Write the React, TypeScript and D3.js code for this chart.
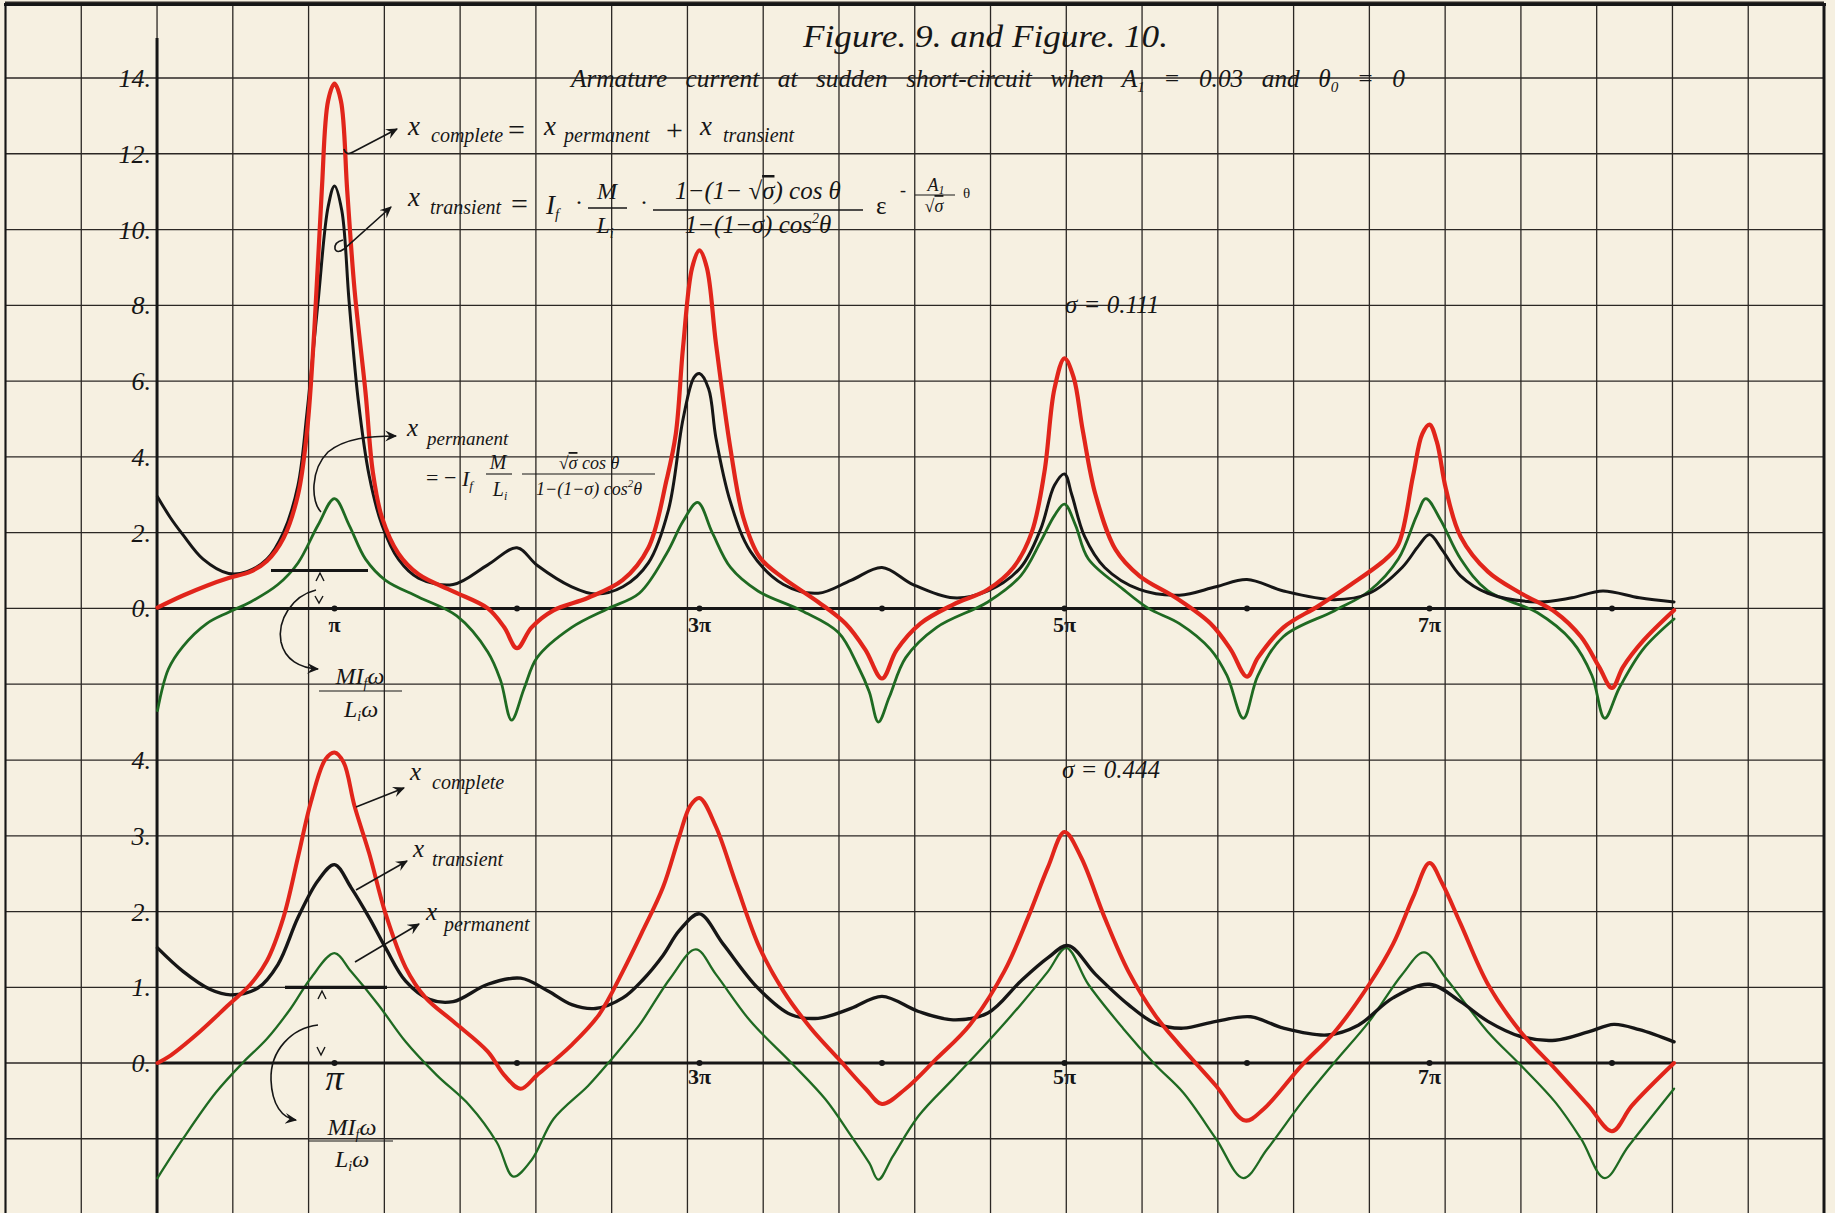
import * as d3 from 'd3'

const W = 1835
const H = 1213
const FONT = '"Liberation Serif", "DejaVu Serif", serif'
const PAPER = '#f6f0e1'
const INK = '#161616'
const RED = '#e1251b'
const GREEN = '#1f6a22'

// theta is in units of pi
// Figure 9, sigma = 0.111
const upperComplete = [
  [0.03, 0.02], [0.17, 0.34], [0.3, 0.6], [0.42, 0.8], [0.54, 0.97], [0.63, 1.25], [0.72, 1.85],
  [0.8, 3.0], [0.85, 4.7], [0.89, 7.4], [0.93, 11.0], [0.965, 13.4], [1.0, 13.85], [1.035, 13.4],
  [1.07, 11.0], [1.11, 8.4], [1.17, 5.7], [1.21, 3.6], [1.26, 2.4], [1.35, 1.45], [1.46, 0.9],
  [1.65, 0.45], [1.84, 0.0], [1.93, -0.5], [2.0, -1.05], [2.08, -0.5], [2.2, -0.05], [2.39, 0.28],
  [2.58, 0.75], [2.72, 1.6], [2.82, 3.4], [2.87, 4.6], [2.91, 6.9], [2.96, 9.0], [3.0, 9.45],
  [3.04, 9.0], [3.09, 7.0], [3.17, 4.2], [3.24, 2.4], [3.33, 1.35], [3.46, 0.8], [3.65, 0.17],
  [3.8, -0.4], [3.91, -1.1], [4.0, -1.85], [4.08, -1.1], [4.21, -0.4], [4.39, 0.1], [4.58, 0.5],
  [4.72, 1.08], [4.82, 2.0], [4.89, 3.6], [4.945, 5.8], [5.0, 6.6], [5.05, 6.1], [5.1, 4.7],
  [5.17, 3.0], [5.28, 1.55], [5.41, 0.86], [5.61, 0.28], [5.8, -0.4], [5.91, -1.08], [6.0, -1.8],
  [6.06, -1.3], [6.2, -0.5], [6.39, 0.06], [6.57, 0.63], [6.76, 1.3], [6.83, 1.7], [6.91, 3.5],
  [6.96, 4.6], [7.0, 4.85], [7.04, 4.4], [7.09, 3.15], [7.17, 1.9], [7.32, 0.97], [7.5, 0.4],
  [7.69, -0.1], [7.83, -0.75], [7.93, -1.55], [8.0, -2.1], [8.06, -1.55], [8.17, -0.86], [8.34, -0.05],
]
const upperTransient = [
  [0.03, 2.95], [0.1, 2.4], [0.17, 1.94], [0.28, 1.3], [0.42, 0.92], [0.52, 0.97], [0.63, 1.3],
  [0.72, 2.0], [0.8, 3.25], [0.85, 5.2], [0.91, 8.1], [0.965, 10.6], [1.0, 11.15], [1.04, 10.5],
  [1.08, 8.1], [1.13, 5.5], [1.19, 3.5], [1.26, 2.2], [1.35, 1.3], [1.46, 0.8], [1.65, 0.63],
  [1.84, 1.15], [2.0, 1.6], [2.11, 1.14], [2.3, 0.57], [2.43, 0.38], [2.58, 0.57], [2.72, 1.2],
  [2.83, 2.6], [2.91, 5.0], [2.97, 6.1], [3.0, 6.2], [3.05, 5.8], [3.09, 4.5], [3.17, 2.8],
  [3.28, 1.5], [3.46, 0.63], [3.65, 0.4], [3.83, 0.74], [4.0, 1.08], [4.17, 0.63], [4.39, 0.28],
  [4.58, 0.46], [4.76, 1.08], [4.87, 2.1], [4.945, 3.25], [5.0, 3.55], [5.04, 3.0], [5.11, 1.9],
  [5.22, 1.08], [5.41, 0.5], [5.63, 0.35], [5.83, 0.57], [6.0, 0.76], [6.2, 0.46], [6.48, 0.23],
  [6.67, 0.4], [6.85, 1.08], [6.94, 1.65], [7.0, 1.95], [7.07, 1.54], [7.17, 0.86], [7.32, 0.4],
  [7.59, 0.17], [7.78, 0.28], [7.95, 0.46], [8.15, 0.28], [8.34, 0.17],
]
const upperPermanent = [
  [0.03, -2.7], [0.09, -1.6], [0.17, -1.0], [0.3, -0.4], [0.42, -0.1], [0.54, 0.17], [0.69, 0.63],
  [0.8, 1.2], [0.91, 2.2], [1.0, 2.9], [1.08, 2.2], [1.17, 1.3], [1.28, 0.74], [1.46, 0.3],
  [1.67, -0.2], [1.84, -1.15], [1.91, -1.9], [1.97, -2.95], [2.04, -2.1], [2.11, -1.3], [2.3, -0.5],
  [2.5, 0.0], [2.67, 0.4], [2.82, 1.45], [2.91, 2.3], [2.99, 2.8], [3.07, 2.0], [3.17, 1.08],
  [3.32, 0.46], [3.56, -0.06], [3.76, -0.63], [3.87, -1.54], [3.93, -2.2], [3.98, -3.0], [4.04, -2.34],
  [4.13, -1.3], [4.3, -0.5], [4.58, 0.17], [4.76, 0.86], [4.87, 1.77], [4.945, 2.45], [5.0, 2.75],
  [5.06, 2.2], [5.13, 1.31], [5.32, 0.51], [5.46, 0.0], [5.63, -0.4], [5.8, -1.08], [5.89, -1.77],
  [5.98, -2.9], [6.06, -1.77], [6.2, -0.74], [6.48, -0.06], [6.67, 0.46], [6.83, 1.31], [6.93, 2.45],
  [6.98, 2.9], [7.06, 2.34], [7.17, 1.31], [7.32, 0.46], [7.59, -0.11], [7.78, -0.86], [7.89, -1.77],
  [7.96, -2.9], [8.04, -2.1], [8.17, -1.08], [8.34, -0.28],
]
// Figure 10, sigma = 0.444
const lowerComplete = [
  [0.03, 0.0], [0.09, 0.08], [0.26, 0.41], [0.42, 0.77], [0.54, 1.04], [0.63, 1.35], [0.72, 1.92],
  [0.8, 2.72], [0.87, 3.44], [0.95, 4.01], [1.0, 4.1], [1.05, 3.97], [1.11, 3.39], [1.19, 2.77],
  [1.28, 1.97], [1.39, 1.26], [1.5, 0.86], [1.65, 0.55], [1.84, 0.15], [1.93, -0.16], [2.02, -0.34],
  [2.11, -0.16], [2.3, 0.24], [2.45, 0.64], [2.58, 1.21], [2.69, 1.75], [2.8, 2.32], [2.89, 3.0],
  [2.95, 3.4], [3.0, 3.5], [3.09, 3.12], [3.2, 2.37], [3.33, 1.52], [3.46, 0.95], [3.61, 0.46],
  [3.76, 0.06], [3.91, -0.34], [4.0, -0.54], [4.13, -0.34], [4.3, 0.06], [4.48, 0.5], [4.67, 1.21],
  [4.8, 1.92], [4.91, 2.59], [5.0, 3.05], [5.09, 2.72], [5.22, 1.92], [5.35, 1.21], [5.5, 0.62],
  [5.63, 0.24], [5.83, -0.3], [5.99, -0.76], [6.09, -0.61], [6.3, -0.03], [6.48, 0.41], [6.67, 1.04],
  [6.8, 1.57], [6.91, 2.19], [7.0, 2.64], [7.07, 2.37], [7.17, 1.84], [7.32, 1.04], [7.5, 0.41],
  [7.69, -0.08], [7.87, -0.56], [8.0, -0.9], [8.11, -0.56], [8.34, 0.0],
]
const lowerTransient = [
  [0.03, 1.52], [0.17, 1.21], [0.32, 0.97], [0.43, 0.9], [0.58, 0.99], [0.69, 1.3], [0.8, 1.92],
  [0.91, 2.41], [1.0, 2.62], [1.09, 2.32], [1.19, 1.92], [1.28, 1.52], [1.39, 1.08], [1.52, 0.84],
  [1.65, 0.81], [1.84, 1.04], [2.02, 1.12], [2.17, 0.95], [2.3, 0.77], [2.43, 0.72], [2.58, 0.86],
  [2.69, 1.1], [2.8, 1.42], [2.89, 1.75], [3.0, 1.97], [3.13, 1.57], [3.32, 0.99], [3.5, 0.64],
  [3.65, 0.59], [3.83, 0.72], [4.0, 0.88], [4.2, 0.68], [4.39, 0.57], [4.58, 0.66], [4.76, 1.08],
  [4.91, 1.39], [5.02, 1.55], [5.17, 1.17], [5.35, 0.77], [5.5, 0.52], [5.65, 0.46], [5.83, 0.55],
  [6.02, 0.61], [6.2, 0.46], [6.44, 0.37], [6.61, 0.5], [6.8, 0.86], [7.0, 1.04], [7.17, 0.81],
  [7.32, 0.55], [7.5, 0.35], [7.69, 0.3], [7.87, 0.41], [8.01, 0.51], [8.15, 0.44], [8.34, 0.28],
]
const lowerPermanent = [
  [0.03, -1.52], [0.17, -1.0], [0.35, -0.39], [0.5, 0.01], [0.63, 0.32], [0.76, 0.72], [0.87, 1.12],
  [1.0, 1.45], [1.09, 1.21], [1.24, 0.77], [1.39, 0.28], [1.56, -0.16], [1.74, -0.56], [1.89, -1.05],
  [1.98, -1.5], [2.08, -1.28], [2.2, -0.74], [2.39, -0.3], [2.5, 0.0], [2.67, 0.5], [2.84, 1.12],
  [2.98, 1.5], [3.09, 1.17], [3.28, 0.55], [3.5, 0.01], [3.69, -0.48], [3.83, -0.96], [3.93, -1.32],
  [3.98, -1.54], [4.06, -1.23], [4.2, -0.7], [4.39, -0.21], [4.58, 0.28], [4.76, 0.77], [4.91, 1.21],
  [5.01, 1.52], [5.13, 1.04], [5.32, 0.46], [5.5, -0.03], [5.65, -0.39], [5.83, -1.0], [5.98, -1.52],
  [6.11, -1.14], [6.3, -0.52], [6.48, 0.01], [6.67, 0.55], [6.85, 1.17], [6.97, 1.46], [7.09, 1.12],
  [7.32, 0.41], [7.5, -0.03], [7.69, -0.52], [7.83, -1.0], [7.96, -1.52], [8.09, -1.1], [8.34, -0.34],
]

const upperTicks = [14, 12, 10, 8, 6, 4, 2, 0]
const lowerTicks = [4, 3, 2, 1, 0]
const piMarks = [1, 2, 3, 4, 5, 6, 7, 8]
const piLabels = [[1, 'π'], [3, '3π'], [5, '5π'], [7, '7π']]

// scales
const x = d3.scaleLinear().domain([0, 8]).range([152, 152 + 8 * 182.5])
const yUp = d3.scaleLinear().domain([0, 14]).range([608.4, 78])
const yLow = d3.scaleLinear().domain([0, 4]).range([1063, 760.1])
const xGrid = d3.scaleLinear().domain([-2, 22]).range([5.5, 1824])
const AXIS_X = xGrid(0)
const X_END = x(8.34)

const curve = d3.curveCatmullRom.alpha(0.5)
const lineUp = d3.line().x((d) => x(d[0])).y((d) => yUp(d[1])).curve(curve)
const lineLow = d3.line().x((d) => x(d[0])).y((d) => yLow(d[1])).curve(curve)

const it = { fontFamily: FONT, fontStyle: 'italic', fill: INK }

const Arrow = ({ d }) => (
  <path d={d} fill="none" stroke={INK} strokeWidth={1.6} markerEnd="url(#head)" />
)

export default function App() {
  const hLines = [
    ...d3.range(16, -3, -2).map((v) => yUp(v)),
    ...d3.range(4, -3, -1).map((v) => yLow(v)),
  ]
  const vLines = d3.range(-2, 23).map((k) => xGrid(k))

  return (
    <svg
      width={W}
      height={H}
      viewBox={`0 0 ${W} ${H}`}
      style={{ position: 'absolute', left: 0, top: 0, display: 'block' }}
    >
      <defs>
        <marker id="head" viewBox="0 0 12 12" refX="10" refY="6" markerWidth="13" markerHeight="13"
          markerUnits="userSpaceOnUse" orient="auto">
          <path d="M0,1 L11,6 L0,11 L4,6 Z" fill={INK} />
        </marker>
      </defs>
      <rect width={W} height={H} fill={PAPER} />

      {/* grid */}
      <g stroke="#2b2724" strokeWidth={1.3}>
        {vLines.map((vx, i) => (
          <line key={'v' + i} x1={vx} x2={vx} y1={4} y2={H} />
        ))}
        {hLines.map((hy, i) => (
          <line key={'h' + i} x1={5} x2={1824} y1={hy} y2={hy} />
        ))}
      </g>
      <g stroke={INK} fill="none">
        <line x1={4} x2={1826} y1={4.5} y2={4.5} strokeWidth={3} />
        <line x1={5.5} x2={5.5} y1={4} y2={H} strokeWidth={2} />
        <line x1={1824} x2={1824} y1={4} y2={H} strokeWidth={3} />
        <line x1={AXIS_X} x2={AXIS_X} y1={38} y2={H} strokeWidth={3} />
        <line x1={AXIS_X} x2={X_END} y1={yUp(0)} y2={yUp(0)} strokeWidth={3} />
        <line x1={AXIS_X} x2={X_END} y1={yLow(0)} y2={yLow(0)} strokeWidth={3} />
      </g>

      {/* y tick labels */}
      {upperTicks.map((v) => (
        <text key={'u' + v} x={151} y={yUp(v) + 9} textAnchor="end" fontSize={26} {...it}>{v}.</text>
      ))}
      {lowerTicks.map((v) => (
        <text key={'l' + v} x={151} y={yLow(v) + 9} textAnchor="end" fontSize={26} {...it}>{v}.</text>
      ))}

      {/* pi dots and labels */}
      {piMarks.map((n) => (
        <g key={'d' + n} fill={INK}>
          <circle cx={x(n)} cy={yUp(0)} r={3} />
          <circle cx={x(n)} cy={yLow(0)} r={3} />
        </g>
      ))}
      {piLabels.map(([n, s]) => (
        <text key={'pu' + n} x={x(n)} y={yUp(0) + 24} textAnchor="middle" fontSize={22}
          fontWeight="bold" fontFamily={FONT} fill={INK}>{s}</text>
      ))}
      {piLabels.map(([n, s]) =>
        n === 1 ? (
          <text key={'pl' + n} x={x(n)} y={yLow(0) + 27} textAnchor="middle" fontSize={36}
            fontFamily={FONT} fontStyle="italic" fill={INK}>π</text>
        ) : (
          <text key={'pl' + n} x={x(n)} y={yLow(0) + 21} textAnchor="middle" fontSize={22}
            fontWeight="bold" fontFamily={FONT} fill={INK}>{s}</text>
        )
      )}

      {/* curves */}
      <g fill="none" strokeLinejoin="round" strokeLinecap="round">
        <path d={lineUp(upperPermanent)} stroke={GREEN} strokeWidth={2.8} />
        <path d={lineUp(upperTransient)} stroke={INK} strokeWidth={3} />
        <path d={lineUp(upperComplete)} stroke={RED} strokeWidth={4.2} />
        <path d={lineLow(lowerPermanent)} stroke={GREEN} strokeWidth={2.3} />
        <path d={lineLow(lowerTransient)} stroke={INK} strokeWidth={3.4} />
        <path d={lineLow(lowerComplete)} stroke={RED} strokeWidth={4} />
      </g>

      {/* titles */}
      <text x={803} y={47} fontSize={31} textLength={365} lengthAdjust="spacingAndGlyphs" {...it}>
        Figure. 9. and Figure. 10.
      </text>
      <text x={571} y={87} fontSize={25} wordSpacing={12} textLength={834}
        lengthAdjust="spacingAndGlyphs" {...it}>
        Armature current at sudden short-circuit when A<tspan fontSize={15} dy={5}>1</tspan>
        <tspan dy={-5}> = 0.03 and θ</tspan><tspan fontSize={15} dy={5}>0</tspan>
        <tspan dy={-5}> = 0</tspan>
      </text>

      {/* x complete = x permanent + x transient */}
      <g {...it}>
        <text x={408} y={135} fontSize={27}>x</text>
        <text x={431} y={142} fontSize={20}>complete</text>
        <text x={508} y={140} fontSize={30} fontStyle="normal">=</text>
        <text x={544} y={135} fontSize={27}>x</text>
        <text x={564} y={142} fontSize={20}>permanent</text>
        <text x={666} y={140} fontSize={30} fontStyle="normal">+</text>
        <text x={700} y={135} fontSize={27}>x</text>
        <text x={723} y={142} fontSize={20}>transient</text>
      </g>

      {/* x transient formula */}
      <g {...it}>
        <text x={408} y={206} fontSize={27}>x</text>
        <text x={430} y={214} fontSize={20}>transient</text>
        <text x={511} y={214} fontSize={30} fontStyle="normal">=</text>
        <text x={546} y={214} fontSize={27}>I<tspan fontSize={15} dy={5}>f</tspan></text>
        <text x={575} y={210} fontSize={24} fontStyle="normal">·</text>
        <text x={607} y={199} fontSize={24} textAnchor="middle">M</text>
        <line x1={588} x2={627} y1={208} y2={208} stroke={INK} strokeWidth={1.3} />
        <text x={605} y={233} fontSize={24} textAnchor="middle">L<tspan fontSize={14} dy={5}>i</tspan></text>
        <text x={640} y={210} fontSize={24} fontStyle="normal">·</text>
        <text x={758} y={199} fontSize={25} textAnchor="middle">
          1−(1− √<tspan textDecoration="overline">σ</tspan>) cos θ
        </text>
        <line x1={653} x2={863} y1={210} y2={210} stroke={INK} strokeWidth={1.3} />
        <text x={758} y={233} fontSize={25} textAnchor="middle">
          1−(1−σ) cos<tspan fontSize={14} dy={-10}>2</tspan><tspan dy={10}>θ</tspan>
        </text>
        <text x={876} y={214} fontSize={25} fontStyle="normal">ε</text>
        <text x={900} y={196} fontSize={18} fontStyle="normal">-</text>
        <text x={936} y={191} fontSize={18} textAnchor="middle">A<tspan fontSize={12} dy={3}>1</tspan></text>
        <line x1={915} x2={955} y1={195} y2={195} stroke={INK} strokeWidth={1} />
        <text x={934} y={212} fontSize={18} textAnchor="middle">√<tspan textDecoration="overline">σ</tspan></text>
        <text x={963} y={198} fontSize={15} fontStyle="normal">θ</text>
      </g>

      {/* x permanent formula */}
      <g {...it}>
        <text x={407} y={436} fontSize={25}>x</text>
        <text x={427} y={445} fontSize={19}>permanent</text>
        <text x={426} y={485} fontSize={22} fontStyle="normal">= −</text>
        <text x={462} y={486} fontSize={22}>I<tspan fontSize={13} dy={4}>f</tspan></text>
        <text x={498} y={469} fontSize={20} textAnchor="middle">M</text>
        <line x1={486} x2={512} y1={474} y2={474} stroke={INK} strokeWidth={1.1} />
        <text x={500} y={496} fontSize={20} textAnchor="middle">L<tspan fontSize={12} dy={4}>i</tspan></text>
        <text x={589} y={469} fontSize={18} textAnchor="middle">
          √<tspan textDecoration="overline">σ</tspan> cos θ
        </text>
        <line x1={522} x2={655} y1={474} y2={474} stroke={INK} strokeWidth={1.1} />
        <text x={589} y={495} fontSize={18} textAnchor="middle">
          1−(1−σ) cos<tspan fontSize={11} dy={-8}>2</tspan><tspan dy={8}>θ</tspan>
        </text>
      </g>

      {/* arrows, upper figure */}
      <Arrow d="M 344 149 q 2 7 9 3 L 397 129" />
      <Arrow d="M 343 240 q -9 2 -8 9 q 2 5 9 0 L 391 207" />
      <Arrow d="M 321 512 C 311 502 310 470 328 452 C 345 438 370 436 396 436" />
      <Arrow d="M 316 590 C 292 596 277 620 281 642 C 285 660 300 668 318 669" />

      {/* MI_f w / L_i w, upper */}
      <line x1={271} x2={368} y1={yUp(1)} y2={yUp(1)} stroke={INK} strokeWidth={3.2} />
      <path d="M 316 581 L 320 573 L 324 581 M 315 596 L 319 603 L 323 596" stroke={INK} strokeWidth={1.4} fill="none" />
      <g {...it}>
        <text x={360} y={684} fontSize={24} textAnchor="middle">MI<tspan fontSize={14} dy={4}>f</tspan><tspan dy={-4}>ω</tspan></text>
        <line x1={319} x2={402} y1={691} y2={691} stroke={INK} strokeWidth={1.2} />
        <text x={361} y={717} fontSize={24} textAnchor="middle">L<tspan fontSize={14} dy={4}>i</tspan><tspan dy={-4}>ω</tspan></text>
      </g>

      {/* sigma labels */}
      <text x={1065} y={313} fontSize={25} {...it}>σ = 0.111</text>
      <text x={1062} y={778} fontSize={25} {...it}>σ = 0.444</text>

      {/* lower figure labels */}
      <g {...it}>
        <text x={410} y={780} fontSize={25}>x</text>
        <text x={432} y={789} fontSize={20}>complete</text>
        <text x={413} y={857} fontSize={25}>x</text>
        <text x={432} y={866} fontSize={20}>transient</text>
        <text x={426} y={920} fontSize={25}>x</text>
        <text x={444} y={931} fontSize={20}>permanent</text>
      </g>
      <Arrow d="M 356 807 L 404 788" />
      <Arrow d="M 356 890 L 407 861" />
      <Arrow d="M 355 962 L 419 924" />

      {/* MI_f w / L_i w, lower */}
      <line x1={285} x2={387} y1={yLow(1)} y2={yLow(1)} stroke={INK} strokeWidth={3.2} />
      <path d="M 318 999 L 322 991 L 326 999 M 317 1047 L 321 1055 L 325 1047" stroke={INK} strokeWidth={1.4} fill="none" />
      <Arrow d="M 318 1025 C 292 1028 270 1050 271 1080 C 272 1105 282 1118 296 1120" />
      <g {...it}>
        <text x={352} y={1135} fontSize={24} textAnchor="middle">MI<tspan fontSize={14} dy={4}>f</tspan><tspan dy={-4}>ω</tspan></text>
        <line x1={309} x2={393} y1={1141} y2={1141} stroke={INK} strokeWidth={1.2} />
        <text x={352} y={1167} fontSize={24} textAnchor="middle">L<tspan fontSize={14} dy={4}>i</tspan><tspan dy={-4}>ω</tspan></text>
      </g>
    </svg>
  )
}
